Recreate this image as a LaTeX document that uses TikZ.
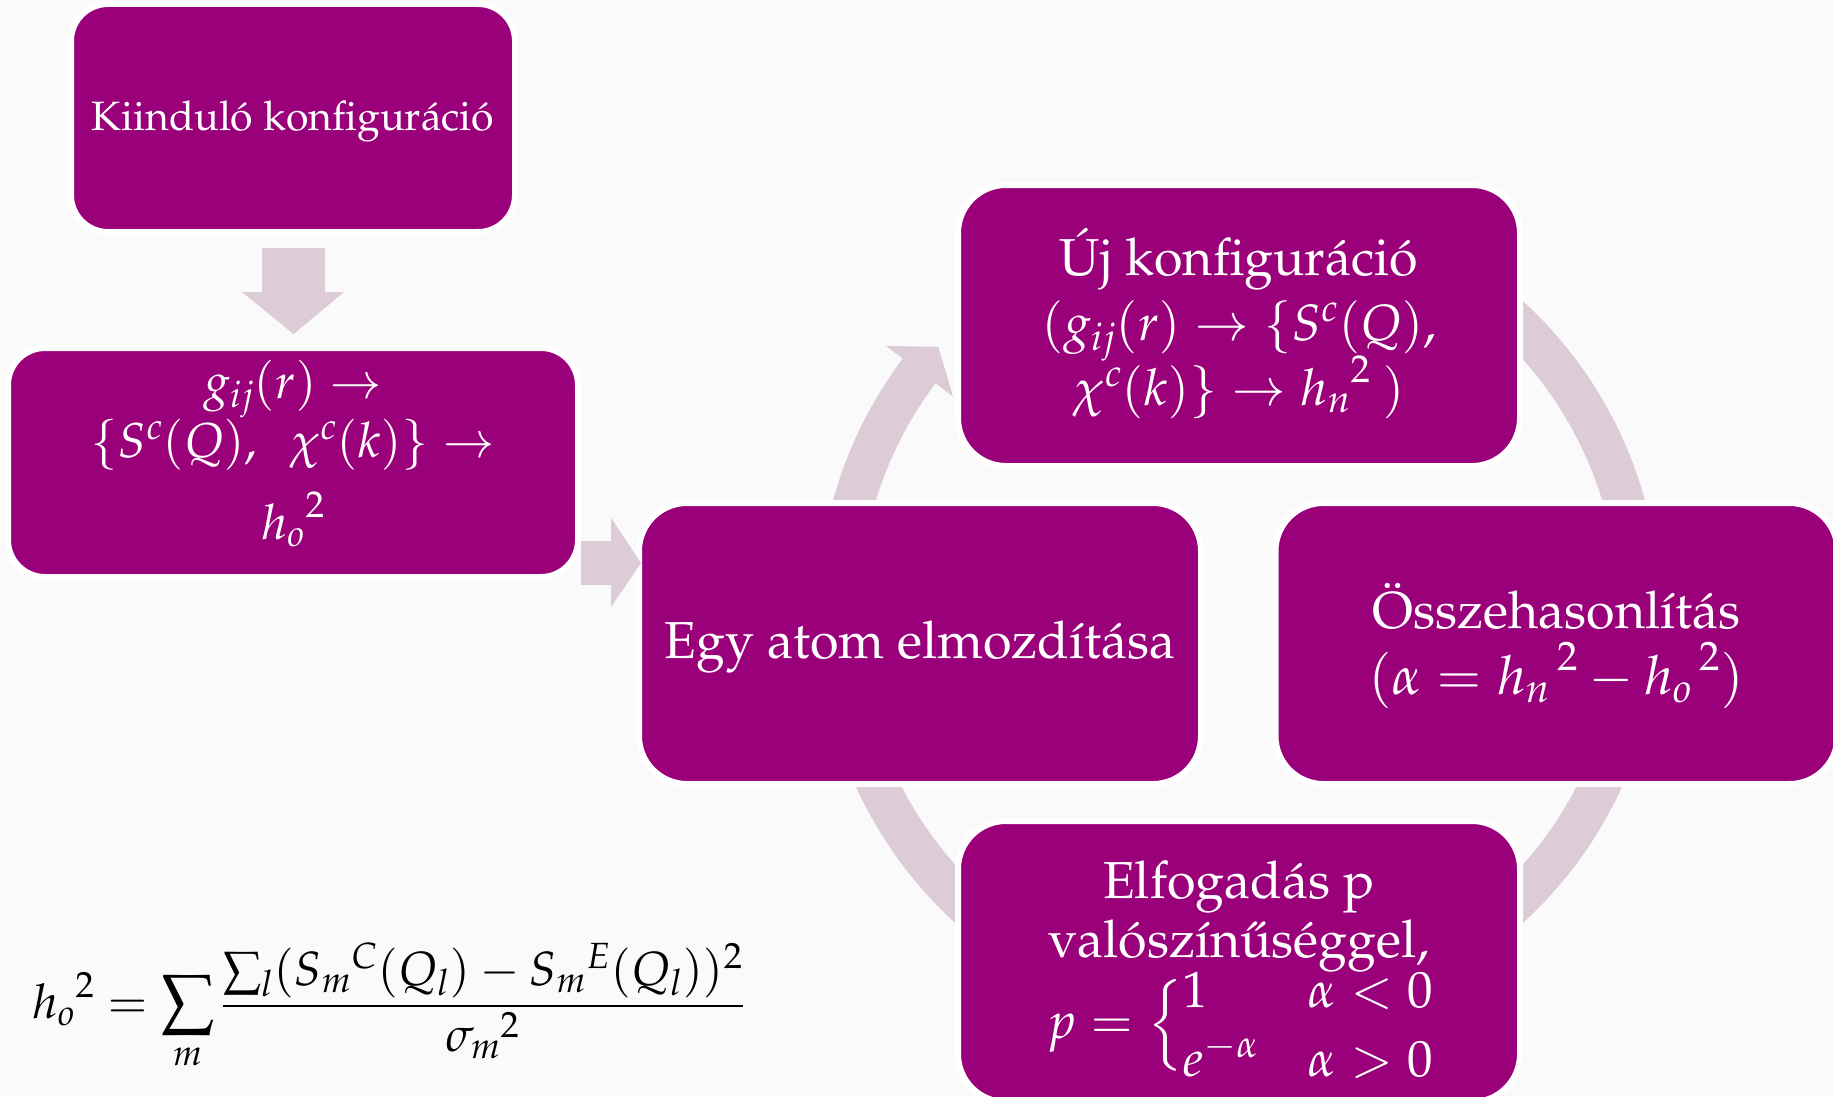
\documentclass[tikz,border=0pt]{standalone}
\usepackage[T1]{fontenc}
\usepackage{amsmath}
\usepackage{mathpazo}
\definecolor{boxpurple}{RGB}{155,0,123}
\definecolor{arcpink}{RGB}{221,203,215}
\definecolor{bgcol}{RGB}{250,250,250}
\begin{document}
\begin{tikzpicture}[x=1pt,y=-1pt,
  bigbox/.style={rectangle, rounded corners=48pt, fill=boxpurple, draw=white, line width=6pt,
    minimum width=562pt, minimum height=281pt, inner sep=0pt},
  smallbox/.style={rectangle, rounded corners=37pt, fill=boxpurple, draw=white, line width=6pt,
    minimum height=228pt, inner sep=0pt},
  txt/.style={text=white, inner sep=0pt, anchor=base},
  bigfont/.style={font=\fontsize{52}{62}\selectfont},
  smallfont/.style={font=\fontsize{41}{49}\selectfont},
  mfont/.style={font=\fontsize{51}{62}\selectfont},
  mfontr/.style={font=\fontsize{54}{62}\selectfont},
  mfonttwo/.style={font=\fontsize{49}{56}\selectfont},
  blockarrow/.style={fill=arcpink}
]
\useasboundingbox (0,0) rectangle (1833,1097);
\clip (0,0) rectangle (1833,1097);
\fill[bgcol] (0,0) rectangle (1833,1097);

% cycle arcs (ring centred at 1239,612)
\begin{scope}[shift={(1239,612)}]
  \fill[arcpink] (190:421) arc[start angle=190, end angle=217, radius=421]
     -- (217:442) -- (221.4:401) -- (217:358) -- (217:380)
     arc[start angle=217, end angle=190, radius=380] -- cycle;
  \fill[arcpink] (290:421) arc[start angle=290, end angle=350, radius=421]
     -- (350:380) arc[start angle=350, end angle=290, radius=380] -- cycle;
  \fill[arcpink] (10:421) arc[start angle=10, end angle=70, radius=421]
     -- (70:380) arc[start angle=70, end angle=10, radius=380] -- cycle;
  \fill[arcpink] (110:421) arc[start angle=110, end angle=170, radius=421]
     -- (170:380) arc[start angle=170, end angle=110, radius=380] -- cycle;
\end{scope}

% boxes
\node[smallbox, minimum width=444pt] (b1) at (293,118) {};
\node[smallbox, minimum width=570pt, minimum height=229pt] (b2) at (293,462.5) {};
\node[bigbox] (b3) at (920,643.5) {};
\node[bigbox] (b4) at (1239,325.5) {};
\node[bigbox] (b5) at (1556.5,643.5) {};
\node[bigbox] (b6) at (1239,961.5) {};

% block arrows
\fill[blockarrow] (262,248) -- (325,248) -- (325,292) -- (344,292) -- (293.5,334)
   -- (242,292) -- (262,292) -- cycle;
\fill[blockarrow] (581,541) -- (611,541) -- (611,518) -- (641,563) -- (611,607)
   -- (611,585) -- (581,585) -- cycle;

% texts
\node[txt, smallfont] (t1) at (293,131) {Kiindul\'o konfigur\'aci\'o};

\node[txt, mfonttwo] (t2a) at (293,398) {$g_{ij}(r)\to$};
\node[txt, mfonttwo] (t2b) at (293,457) {$\{S^c(Q),\ \ \chi^c(k)\}\to$};
\node[txt, mfonttwo] (t2c) at (293,539) {${h_o}^2$};

\node[txt, bigfont] (t3) at (920,658) {Egy atom elmozd\'{\i}t\'asa};

\node[txt, bigfont] (t4a) at (1239,275) {\'Uj konfigur\'aci\'o};
\node[txt, mfont] (t4b) at (1239,340) {$(g_{ij}(r)\to\{S^c(Q),$};
\node[txt, mfont] (t4c) at (1239,405) {$\chi^c(k)\}\to{h_n}^2\ )$};

\node[txt, bigfont] (t5a) at (1556.5,628) {\"Osszehasonl\'{\i}t\'as};
\node[txt, mfontr] (t5b) at (1556.5,694) {$(\alpha={h_n}^{\,2}-{h_o}^{\,2})$};

\node[txt, bigfont] (t6a) at (1239,898) {Elfogad\'as p};
\node[txt, bigfont] (t6b) at (1239,957) {val\'osz\'{\i}n\H{u}s\'eggel,};
\node[txt, mfont] (t6c) at (1240,1038) {$p=\Big\{\raisebox{-6pt}{$\def\arraystretch{0.8}\begin{array}{@{}l@{\hspace{50pt}}l@{}}1&\alpha<0\\[12pt] e^{-\alpha}&\alpha>0\end{array}$}$};

% formula
\node[anchor=base west, inner sep=0pt, text=black, font=\fontsize{48}{60}\selectfont] (f) at (32,1018)
  {$\displaystyle {h_o}^2=\sum_m\frac{\sum_l(S_m{}^C(Q_l)-S_m{}^E(Q_l))^2}{{\sigma_m}^2}$};
\end{tikzpicture}
\end{document}
